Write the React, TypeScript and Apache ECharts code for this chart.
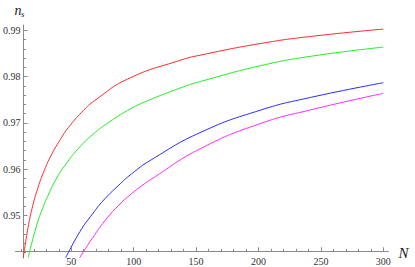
import React, { useEffect, useRef } from "react";
import * as echarts from "echarts";

// Tick values
const xTicks = [50, 100, 150, 200, 250, 300];
const yTicks = [0.95, 0.96, 0.97, 0.98, 0.99];

// Red curve
const redN = [11.5, 15.4, 18.6, 22.6, 27.9, 33.2, 41.2, 49.2, 59.8, 68.6, 95.2, 137.8, 154, 202, 241.5, 300];
const redV = [0.9408, 0.9474, 0.9515, 0.9554, 0.9594, 0.9626, 0.9664, 0.9695, 0.9727, 0.9748, 0.9795, 0.9836, 0.9847, 0.9872, 0.9887, 0.9903];

// Green curve
const greenN = [15.4, 21.8, 26.6, 31.9, 38.6, 45.2, 55.8, 67.3, 81, 95.2, 106, 137.8, 154, 202, 241.5, 300];
const greenV = [0.9408, 0.9474, 0.9512, 0.9546, 0.9582, 0.9609, 0.9645, 0.9675, 0.9703, 0.9727, 0.9742, 0.9776, 0.979, 0.9824, 0.9844, 0.9864];

// Blue curve
const blueN = [45.5, 57, 67, 76, 88, 98, 114, 154, 202, 241.5, 300];
const blueV = [0.9408, 0.9465, 0.9503, 0.9533, 0.9565, 0.9589, 0.962, 0.968, 0.9728, 0.9755, 0.9787];

// Magenta curve
const magentaN = [56.7, 67, 79, 90, 98, 106, 114, 154, 202, 241.5, 300];
const magentaV = [0.9408, 0.9451, 0.9495, 0.9527, 0.9546, 0.9563, 0.9578, 0.9645, 0.9699, 0.9728, 0.9764];

const pairs = (xs: number[], ys: number[]) => xs.map((x, i) => [x, ys[i]]);

const SERIF = "Liberation Serif, Times New Roman, serif";
const AXIS = "#8a8a8a";

export default function App() {
  const ref = useRef<HTMLDivElement>(null);
  useEffect(() => {
    if (!ref.current) return;
    const chart = echarts.init(ref.current, undefined, { renderer: "svg" });
    const mk = (name: string, xs: number[], ys: number[], color: string) => ({
      name,
      type: "line",
      data: pairs(xs, ys),
      showSymbol: false,
      smooth: 0.5,
      lineStyle: { color, width: 1 },
      itemStyle: { color },
      clip: true,
    });
    chart.setOption({
      animation: false,
      grid: { left: 14, right: 26.7, top: 25, bottom: 9, containLabel: false },
      xAxis: {
        type: "value",
        min: 5.32,
        max: 304,
        offset: -6.7,
        axisLine: { show: true, onZero: false, lineStyle: { color: AXIS, width: 1 } },
        axisTick: { show: true, inside: true, length: 4, customValues: xTicks, lineStyle: { color: AXIS } },
        minorTick: { show: true, splitNumber: 5, length: 2.5, lineStyle: { color: AXIS } },
        axisLabel: { customValues: xTicks, margin: 5, fontSize: 10, fontFamily: SERIF, color: "#333" },
        splitLine: { show: false },
        minorSplitLine: { show: false },
      },
      yAxis: {
        type: "value",
        min: 0.94076,
        max: 0.99119,
        offset: -8,
        axisLine: { show: true, onZero: false, lineStyle: { color: AXIS, width: 1 } },
        axisTick: { show: true, inside: true, length: 4, customValues: yTicks, lineStyle: { color: AXIS } },
        minorTick: { show: true, splitNumber: 5, length: 2.5, lineStyle: { color: AXIS } },
        axisLabel: {
          customValues: yTicks,
          margin: 3,
          fontSize: 10,
          fontFamily: SERIF,
          color: "#333",
          formatter: (v: number) => v.toFixed(2),
        },
        splitLine: { show: false },
        minorSplitLine: { show: false },
      },
      series: [
        mk("red", redN, redV, "#ff2a2a"),
        mk("green", greenN, greenV, "#22ee22"),
        mk("blue", blueN, blueV, "#2a2aff"),
        mk("magenta", magentaN, magentaV, "#ff2aff"),
      ],
      graphic: [
        {
          type: "text",
          x: 14.5,
          y: 10.5,
          style: { text: "n", fontFamily: SERIF, fontStyle: "italic", fontSize: 14, fill: "#222", align: "left", verticalAlign: "middle" },
        },
        {
          type: "text",
          x: 21,
          y: 14,
          style: { text: "s", fontFamily: SERIF, fontStyle: "italic", fontSize: 9, fill: "#222", align: "left", verticalAlign: "middle" },
        },
        {
          type: "text",
          x: 398.5,
          y: 252.5,
          style: { text: "N", fontFamily: SERIF, fontStyle: "italic", fontSize: 15, fill: "#222", align: "left", verticalAlign: "middle" },
        },
      ],
    });
    return () => chart.dispose();
  }, []);
  return (
    <div
      ref={ref}
      style={{ position: "fixed", left: 0, top: 0, width: 415, height: 267, background: "#fff" }}
    />
  );
}
